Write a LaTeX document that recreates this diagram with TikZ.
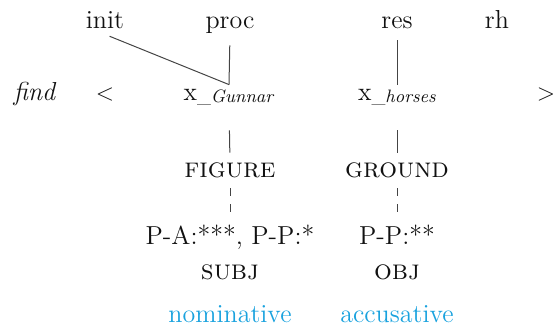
\documentclass[tikz,border=0pt]{standalone}
\usepackage{tikz}
\usetikzlibrary{
  calc,
  positioning
}
\definecolor{ink}{HTML}{111111}
\definecolor{tie}{HTML}{444444}
\definecolor{casecol}{HTML}{19A2DE}
\newcommand{\idx}[1]{x\raisebox{-1pt}{\small\_\textit{#1}}}
\tikzset{
  word/.style={
    inner sep=0pt,
    text height=8pt,
    text depth=2.5pt,
    anchor=base,
    text=ink
  },
  feature/.style={
    word,
    font=\fontsize{14}{16}\selectfont\scshape
  },
  casename/.style={
    word,
    text=casecol
  },
  link/.style={
    draw=tie,
    line width=0.5pt
  },
  down/.style={
    link,
    shorten <=12pt,
    shorten >=4.5pt
  },
  weak/.style={
    link,
    dash pattern=on 4pt off 4pt,
    shorten <=2.5pt,
    shorten >=8.5pt
  }
}

\begin{document}
\begin{tikzpicture}[x=0.5pt, y=-0.5pt, font=\fontsize{13}{15}\selectfont]
  \useasboundingbox (0,0) rectangle (553,326);
  % event structure heads
  \node[word] (init) at (105,29) {init};
  \node[word] (proc) at (230,29) {proc};
  \node[word] (res) at (397,29) {res};
  \node[word] (rh) at (497,29) {rh};
  % predicate row
  \node[word] (find) at (35,101) {\textit{find}};
  \node[word] (lt) at (105,101) {$<$};
  \node[word] (xg) at (229,101) {\idx{Gunnar}};
  \node[word] (xh) at (397,101) {\idx{horses}};
  \node[word] (gt) at (546,101) {$>$};
  % roles
  \node[feature] (fig) at (230,178) {figure};
  \node[feature] (gnd) at (397,178) {ground};
  \node[word] (pa) at (230,245) {P-A:***, P-P:*};
  \node[word] (pp) at (397,245) {P-P:**};
  \node[feature] (subj) at (230,280) {subj};
  \node[feature] (obj) at (397,280) {obj};
  \node[casename] (nom) at (230,323) {nominative};
  \node[casename] (acc) at (397,323) {accusative};

  \draw[link, shorten <=2.5pt] (init.south) -- (xg.north);
  \draw[link, shorten <=5.5pt] (proc.south) -- (xg.north);
  \draw[link, shorten <=3pt] (res.south) -- (xh.north);
  \draw[down] (xg.south) -- (fig.north);
  \draw[down] (xh.south) -- (gnd.north);
  \draw[weak] (fig.south) -- (pa.north);
  \draw[weak] (gnd.south) -- (pp.north);
\end{tikzpicture}
\end{document}
